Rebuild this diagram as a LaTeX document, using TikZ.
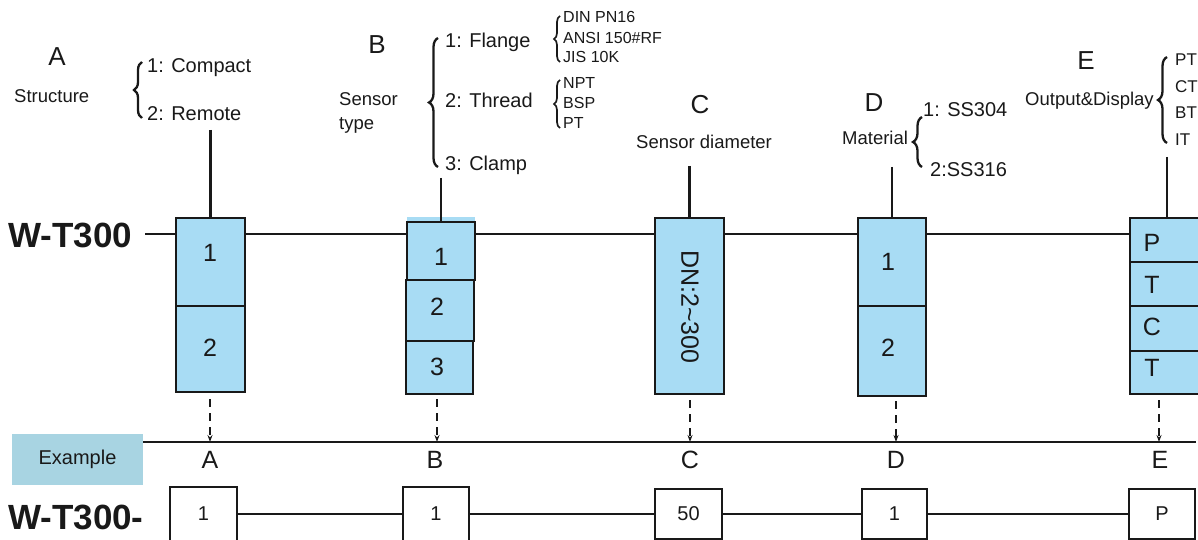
\documentclass[tikz,border=0pt]{standalone}
\usepackage{fontspec}
\setmainfont{Liberation Sans}
\usetikzlibrary{decorations.pathreplacing,arrows.meta}
\definecolor{boxblue}{RGB}{168,220,244}
\definecolor{exblue}{RGB}{168,212,226}
\definecolor{ink}{RGB}{25,25,25}
\begin{document}
\begin{tikzpicture}[x=1pt,y=-1pt,
  txt/.style={inner sep=0pt, text depth=0pt, text=ink},
  big/.style={txt, font=\fontsize{26}{30}\selectfont},
  opt/.style={txt, anchor=west, font=\fontsize{20}{24}\selectfont},
  cat/.style={txt, anchor=west, font=\fontsize{18.5}{22}\selectfont},
  small/.style={txt, anchor=west, font=\fontsize{16}{19}\selectfont},
  code/.style={txt, anchor=west, font=\bfseries\fontsize{35}{40}\selectfont},
  bluebox/.style={draw=ink, line width=2.1pt, fill=boxblue, inner sep=0pt},
  whitebox/.style={draw=ink, line width=2.1pt, fill=white, inner sep=0pt, font=\fontsize{20}{24}\selectfont, text=ink},
  digit/.style={txt, font=\fontsize{25}{29}\selectfont},
  link/.style={draw=ink, line width=2.2pt},
  brc/.style={decorate, decoration={brace, amplitude=#1}, draw=ink, line width=2.3pt},
  dasharrow/.style={draw=ink, line width=2.2pt, dash pattern=on 8pt off 6pt, -{Stealth[length=7pt,width=5pt]}},
]
\useasboundingbox (0,0) rectangle (1198,540);

% ---------- top labels ----------
\node[big] (hA) at (57,57) {A};
\node[cat] (sA) at (14,96) {Structure};
\draw[brc=8pt] (142,118) -- (142,62);
\node[opt] (oA1) at (147,66) {1: Compact};
\node[opt] (oA2) at (147,114) {2: Remote};

\node[big] (hB) at (377,45) {B};
\node[cat] (sB1) at (339,99) {Sensor};
\node[cat] (sB2) at (339,124) {type};
\draw[brc=9pt] (438,167) -- (438,38);
\node[opt] (oB1) at (445,40) {1: Flange};
\node[opt] (oB2) at (445,100) {2: Thread};
\node[opt] (oB3) at (445,163) {3: Clamp};
\draw[brc=6pt, line width=1.7pt] (560,62) -- (560,16);
\node[small] (f1) at (563,17) {DIN PN16};
\node[small] (f2) at (563,38) {ANSI 150\#RF};
\node[small] (f3) at (563,57) {JIS 10K};
\draw[brc=6pt, line width=1.7pt] (560,128) -- (560,80);
\node[small] (t1) at (563,83) {NPT};
\node[small] (t2) at (563,103) {BSP};
\node[small] (t3) at (563,123) {PT};

\node[big] (hC) at (700,104) {C};
\node[cat] (sC) at (636,142) {Sensor diameter};

\node[big] (hD) at (874,103) {D};
\node[cat] (sD) at (842,138) {Material};
\draw[brc=9pt] (922,167) -- (922,117);
\node[opt] (oD1) at (923,110) {1: SS304};
\node[opt] (oD2) at (930,170) {2:SS316};

\node[big] (hE) at (1086,61) {E};
\node[cat] (sE) at (1025,99) {Output\&Display};
\draw[brc=9pt] (1167,143) -- (1167,57);
\node[cat, font=\fontsize{17}{20}\selectfont] (oE1) at (1175,60) {PT};
\node[cat, font=\fontsize{17}{20}\selectfont] (oE2) at (1175,87) {CT};
\node[cat, font=\fontsize{17}{20}\selectfont] (oE3) at (1175,113) {BT};
\node[cat, font=\fontsize{17}{20}\selectfont] (oE4) at (1175,140) {IT};

% ---------- main code line ----------
\node[code] (wt) at (8,235) {W-T300};
\coordinate (lstart) at (145,234);
\coordinate (lend) at (1130,234);
\draw[link] (lstart) -- (lend);

% ---------- boxes ----------
\node[bluebox, minimum width=69pt, minimum height=88pt] (a1) at (210.5,262) {};
\node[bluebox, minimum width=69pt, minimum height=86pt] (a2) at (210.5,349) {};
\fill[boxblue] (407,217) rectangle (475,222);
\node[bluebox, minimum width=68pt, minimum height=58pt] (b1) at (441,251) {};
\node[bluebox, minimum width=67pt, minimum height=53pt] (b3) at (439.5,367.5) {};
\node[bluebox, line width=2.7pt, minimum width=68pt, minimum height=61pt] (b2) at (440,310.5) {};
\node[bluebox, minimum width=69pt, minimum height=176pt] (c1) at (689.5,306) {};
\node[bluebox, minimum width=68pt, minimum height=88pt] (d1) at (892,262) {};
\node[bluebox, minimum width=68pt, minimum height=90pt] (d2) at (892,351) {};
\node[bluebox, minimum width=70pt, minimum height=44pt] (e1) at (1165,240) {};
\node[bluebox, minimum width=70pt, minimum height=44pt] (e2) at (1165,284) {};
\node[bluebox, minimum width=70pt, minimum height=45pt] (e3) at (1165,328.5) {};
\node[bluebox, minimum width=70pt, minimum height=43pt] (e4) at (1165,372.5) {};

\node[digit] (na1) at (210,253) {1};
\node[digit] (na2) at (210,348) {2};
\node[digit] (nb1) at (441,257) {1};
\node[digit] (nb2) at (437,307) {2};
\node[digit] (nb3) at (437,367) {3};
\node[digit, rotate=-90] (nc) at (690,307) {DN:2\textasciitilde300};
\node[digit] (nd1) at (888,262) {1};
\node[digit] (nd2) at (888,348) {2};
\node[digit] (ne1) at (1152,243) {P};
\node[digit] (ne2) at (1152,285) {T};
\node[digit] (ne3) at (1152,327) {C};
\node[digit] (ne4) at (1152,368) {T};

% ---------- vertical connectors ----------
\coordinate (ta) at (210.5,130);
\coordinate (tb) at (441,178);
\coordinate (tc) at (689.5,166);
\coordinate (td) at (892,167);
\coordinate (te) at (1167,157);
\draw[link] (ta) -- (a1.north);
\draw[link] (tb) -- (tb |- b1.north);
\draw[link] (tc) -- (c1.north);
\draw[link] (td) -- (d1.north);
\draw[link] (te) -- (te |- e1.north);

% ---------- example line ----------
\node[fill=exblue, minimum width=131pt, minimum height=51pt, inner sep=0pt,
      font=\fontsize{20}{24}\selectfont, text=ink] (ex) at (77.5,459.5) {Example};
\coordinate (exl) at (143,442);
\coordinate (exr) at (1196,442);
\draw[link] (exl) -- (exr);

\coordinate (xa) at (210,442);
\coordinate (xb) at (437,442);
\coordinate (xc) at (690,442);
\coordinate (xd) at (896,442);
\coordinate (xe) at (1159,442);
\draw[dasharrow] (xa |- a2.south) ++(0,6) -- (xa);
\draw[dasharrow] (xb |- b3.south) ++(0,4) -- (xb);
\draw[dasharrow] (xc |- c1.south) ++(0,5) -- (xc);
\draw[dasharrow] (xd |- d2.south) ++(0,4) -- (xd);
\draw[dasharrow] (xe |- e4.south) ++(0,5) -- (xe);

\node[big, font=\fontsize{25}{29}\selectfont] (la) at (210,460) {A};
\node[big, font=\fontsize{25}{29}\selectfont] (lb) at (435,460) {B};
\node[big, font=\fontsize{25}{29}\selectfont] (lc) at (690,460) {C};
\node[big, font=\fontsize{25}{29}\selectfont] (ld) at (896,460) {D};
\node[big, font=\fontsize{25}{29}\selectfont] (le) at (1160,460) {E};

% ---------- example code ----------
\node[code] (wt2) at (8,517) {W-T300-};
\node[whitebox, minimum width=67pt, minimum height=54pt] (ba) at (203.5,514) {1};
\node[whitebox, minimum width=66pt, minimum height=54pt] (bb) at (436,514) {1};
\node[whitebox, minimum width=67pt, minimum height=50pt] (bc) at (688.5,514) {50};
\node[whitebox, minimum width=65pt, minimum height=50pt] (bd) at (894.5,514) {1};
\node[whitebox, minimum width=66pt, minimum height=50pt] (be) at (1162,514) {P};
\draw[link] (ba.east) -- (bb.west);
\draw[link] (bb.east) -- (bc.west);
\draw[link] (bc.east) -- (bd.west);
\draw[link] (bd.east) -- (be.west);
\end{tikzpicture}
\end{document}
